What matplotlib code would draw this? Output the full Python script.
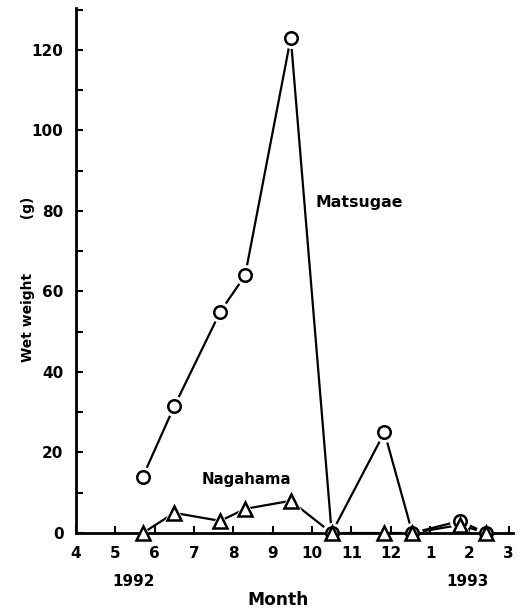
import matplotlib.pyplot as plt

# sampling dates as month number counted from Jan 1992 (13 = Jan 1993)
months = [5.7, 6.5, 7.67, 8.3, 9.46, 10.5, 11.84, 12.55, 13.76, 14.42]
matsugae = [14, 31.5, 55, 64, 123, 0, 25, 0, 3, 0]
nagahama = [0, 5, 3, 6, 8, 0, 0, 0, 2, 0]

tick_pos = list(range(4, 16))
tick_labels = ['4', '5', '6', '7', '8', '9', '10', '11', '12', '1', '2', '3']

plt.rcParams['font.family'] = ['DejaVu Sans']
plt.rcParams['font.weight'] = 'bold'

fig = plt.figure(figsize=(5.2, 6.13), dpi=100)
ax = fig.add_axes([0.146, 0.1305, 0.840, 0.8564])


def draw(x, y, marker, ms):
    ax.plot(x, y, color='k', lw=1.6, zorder=2, clip_on=False)
    # white halo so the line stops short of each marker
    ax.plot(x, y, ls='none', marker=marker, ms=ms + 5, mfc='w', mec='w',
            zorder=2.2, clip_on=False)
    ax.plot(x, y, ls='none', marker=marker, ms=ms, mfc='w', mec='k',
            mew=1.8, zorder=3, clip_on=False)


draw(months, matsugae, 'o', 9)
draw(months, nagahama, '^', 10)

ax.text(10.1, 82, 'Matsugae', fontsize=11.3, fontweight='bold', va='center')
ax.text(7.2, 13.2, 'Nagahama', fontsize=10.8, fontweight='bold', va='center')

ax.set_xlim(4, 15.1)
ax.set_ylim(0, 130.4)
ax.set_xticks(tick_pos)
ax.set_xticklabels(tick_labels)
ax.set_yticks(range(0, 121, 20))
ax.set_yticks(range(10, 131, 20), minor=True)
ax.tick_params(axis='both', which='both', direction='in', width=1.5,
               labelsize=11)
ax.tick_params(axis='both', which='major', length=5)
ax.tick_params(axis='y', which='minor', length=5)
ax.tick_params(axis='x', pad=9)
ax.tick_params(axis='y', pad=9)

for s in ['top', 'right']:
    ax.spines[s].set_visible(False)
for s in ['left', 'bottom']:
    ax.spines[s].set_linewidth(2)

fig.text(28 / 520, 1 - 279 / 613, 'Wet weight           (g)', fontsize=10,
         fontweight='bold', rotation=90, ha='center', va='center')
fig.text(134 / 520, 1 - 582 / 613, '1992', fontsize=11, fontweight='bold',
         ha='center', va='center')
fig.text(467 / 520, 1 - 582 / 613, '1993', fontsize=11, fontweight='bold',
         ha='center', va='center')
fig.text(278 / 520, 1 - 600 / 613, 'Month', fontsize=12.3, fontweight='bold',
         ha='center', va='center')

fig.savefig('out.png', dpi=100)
